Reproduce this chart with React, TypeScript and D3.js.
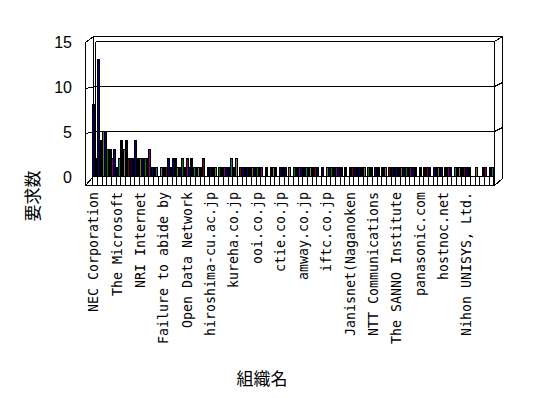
import React from "react";
import * as d3 from "d3";

// Requests per organization (one bar per organization)
const values: number[] = [
  8, 2, 13, 4, 5, 5, 3, 3, 2, 3,
  1, 2, 4, 3, 4, 2, 2, 2, 4, 2,
  2, 2, 2, 2, 3, 1, 1, 1, 0, 1,
  1, 1, 2, 1, 2, 2, 1, 1, 2, 1,
  2, 1, 2, 1, 1, 1, 1, 2, 0, 1,
  1, 1, 1, 0, 1, 1, 1, 1, 1, 2,
  1, 2, 0, 1, 1, 1, 1, 1, 1, 1,
  1, 1, 1, 0, 1, 0, 1, 1, 1, 0,
  1, 1, 1, 0, 1, 0, 1, 1, 1, 1,
  1, 1, 1, 1, 1, 1, 1, 0, 1, 0,
  1, 1, 1, 1, 1, 1, 1, 0, 1, 0,
  1, 1, 1, 1, 1, 1, 1, 0, 1, 1,
  0, 1, 1, 0, 1, 1, 0, 1, 1, 1,
  1, 1, 1, 1, 1, 1, 1, 1, 1, 0,
  1, 0, 1, 1, 1, 0, 1, 1, 1, 1,
  0, 1, 1, 1, 0, 1, 1, 1, 1, 1,
  1, 1, 0, 0, 1, 0, 0, 1, 1, 0,
  1, 1,
];

// Every 10th organization is labelled on the category axis
const tickLabels: string[] = [
  "NEC Corporation",
  "The Microsoft",
  "NRI Internet",
  "Failure to abide by",
  "Open Data Network",
  "hiroshima-cu.ac.jp",
  "kureha.co.jp",
  "ooi.co.jp",
  "ctie.co.jp",
  "amway.co.jp",
  "iftc.co.jp",
  "Janisnet(Naganoken",
  "NTT Communications",
  "The SANNO Institute",
  "panasonic.com",
  "hostnoc.net",
  "Nihon UNISYS, Ltd.",
];
const labelStep = 10;
const yTicks: number[] = [0, 5, 10, 15];

const yTitle = "要求数";
const xTitle = "組織名";

const barPalette = [
  "#000080", "#000000", "#000080", "#000000", "#808000", "#000080", "#008000", "#000000",
  "#800080", "#000080", "#000000", "#008080", "#000000", "#808080", "#000000", "#800000",
];

export default function App() {
  const W = 548;
  const H = 398;

  // geometry of the pseudo-3D frame
  const axisX = 85;
  const wallX = 93;
  const innerX = 95;
  const rightX = 494;
  const backRightX = 502;
  const topBackY = 36;
  const floorFrontY = 185;

  const x = d3
    .scaleBand<number>()
    .domain(d3.range(values.length))
    .range([92.5, 493.3])
    .padding(0);
  const y = d3.scaleLinear().domain([0, 15]).range([176, 41]);

  const base = y(0);
  const top = y(15);
  const h = (v: number) => Math.round(v) + 0.5;

  const frame: string[] = [];
  frame.push(`M${h(axisX)},${h(top + 1)}V${h(floorFrontY)}`);
  frame.push(`M${h(axisX)},${h(top + 1)}L${h(wallX)},${h(topBackY)}H${h(backRightX)}V${h(floorFrontY - 7)}`);
  frame.push(`M${h(wallX)},${h(topBackY)}V${h(base)}`);
  frame.push(`M${h(innerX)},${h(top)}V${h(base)}`);
  frame.push(`M${h(innerX)},${h(top)}H${h(rightX)}V${h(floorFrontY)}`);
  frame.push(`M${h(rightX)},${h(top)}L${h(backRightX)},${h(topBackY)}`);
  yTicks
    .filter((t) => t > 0 && t < 15)
    .forEach((t) => {
      const yy = y(t);
      frame.push(`M${h(axisX)},${h(yy + 2)}L${h(innerX)},${h(yy)}H${h(rightX)}L${h(backRightX)},${h(yy - 4)}`);
    });
  frame.push(`M${h(axisX)},${h(floorFrontY)}H${h(rightX)}L${h(backRightX)},${h(floorFrontY - 7)}`);
  frame.push(`M${h(wallX)},${h(base)}H${h(rightX)}`);
  frame.push(`M${h(axisX)},${h(floorFrontY)}L${h(wallX)},${h(base)}`);

  const floorTicks: number[] = [];
  for (let i = 0; i <= values.length; i += 2) {
    const xx = i < values.length ? (x(i) as number) : 493.3;
    floorTicks.push(xx);
  }

  const bw = 2;

  return (
    <svg
      width={W}
      height={H}
      style={{ position: "absolute", left: 0, top: 0, display: "block", background: "#fff" }}
    >
      <rect x={0} y={0} width={W} height={H} fill="#fff" />
      <g shapeRendering="crispEdges" stroke="#000" strokeWidth={1} fill="none">
        {frame.map((d, i) => (
          <path key={i} d={d} />
        ))}
        {floorTicks.map((xx, i) => (
          <line key={i} x1={h(xx)} x2={h(xx)} y1={h(base)} y2={h(floorFrontY)} />
        ))}
      </g>
      <g shapeRendering="crispEdges">
        {values.map((v, i) =>
          v > 0 ? (
            <rect
              key={i}
              x={h(x(i) as number)}
              y={h(y(v))}
              width={bw}
              height={h(base) - h(y(v))}
              fill={barPalette[i % barPalette.length]}
              stroke="#000"
              strokeWidth={1}
            />
          ) : null
        )}
      </g>
      <g fontFamily="'Liberation Sans', Arial, sans-serif" fontSize={16} fill="#000">
        {yTicks.map((t) => (
          <text key={t} x={72} y={y(t) + 1} textAnchor="end" dominantBaseline="central">
            {t}
          </text>
        ))}
      </g>
      <g fontFamily="'DejaVu Sans Mono', monospace" fontSize={13.3} fill="#000">
        {tickLabels.map((lab, k) => {
          const i = k * labelStep;
          const cx = (x(i) as number) + x.bandwidth() / 2;
          return (
            <text
              key={k}
              transform={`translate(${cx},${192}) rotate(-90)`}
              textAnchor="end"
              dy="0.36em"
            >
              {lab}
            </text>
          );
        })}
      </g>
      <text
        transform={`translate(${31},${196}) rotate(-90)`}
        textAnchor="middle"
        dominantBaseline="central"
        fontFamily="'Noto Sans CJK JP', sans-serif"
        fontSize={17}
      >
        {yTitle}
      </text>
      <text
        x={262}
        y={377}
        textAnchor="middle"
        dominantBaseline="central"
        fontFamily="'Noto Sans CJK JP', sans-serif"
        fontSize={17}
      >
        {xTitle}
      </text>
    </svg>
  );
}
